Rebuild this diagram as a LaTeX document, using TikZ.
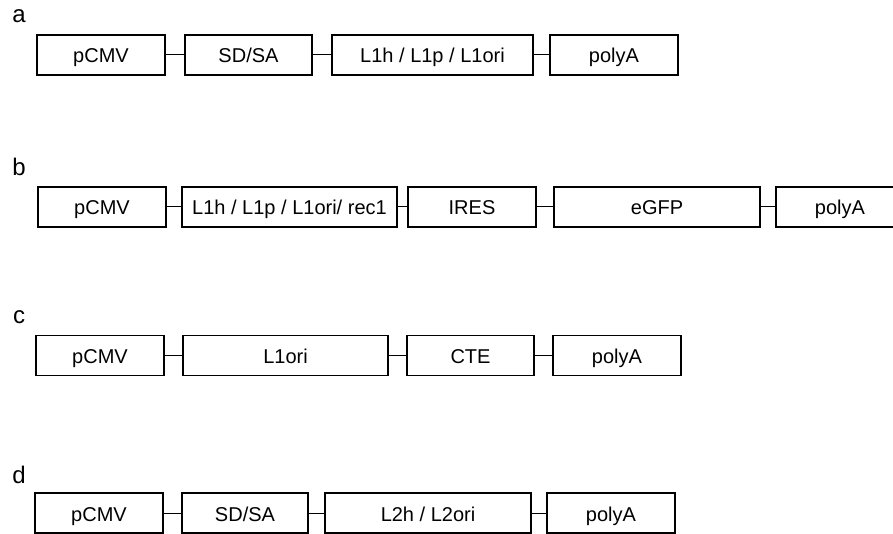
\documentclass[tikz,border=0pt]{standalone}
\usepackage{fontspec}
\setmainfont{Liberation Sans}
\usepackage{tikz}
\usetikzlibrary{positioning}
\tikzset{
  blk/.style={draw,line width=1.1pt,minimum height=40,inner sep=0pt,text height=18,text depth=2,font=\fontsize{20}{24}\selectfont},
  lbl/.style={anchor=base,inner sep=0pt,font=\fontsize{24}{28}\selectfont},
  link/.style={line width=1pt}
}

\begin{document}
\begin{tikzpicture}[x=1pt,y=-1pt]
  \clip (0,0) rectangle (893,534);
  % a
  \node[lbl] (la) at (19,23) {a};
  \node[blk,minimum width=128] (a1) at (101,55) {pCMV};
  \node[blk,minimum width=127] (a2) at (248.5,55) {SD/SA};
  \node[blk,minimum width=201] (a3) at (432.5,55) {L1h / L1p / L1ori};
  \node[blk,minimum width=128] (a4) at (614,55) {polyA};
  \draw[link] (a1) -- (a2);  \draw[link] (a2) -- (a3);  \draw[link] (a3) -- (a4);
  % b
  \node[lbl] (lb) at (19,176) {b};
  \node[blk,minimum width=128] (b1) at (102,207) {pCMV};
  \node[blk,minimum width=215] (b2) at (289.5,207) {L1h / L1p / L1ori/ rec1};
  \node[blk,minimum width=128] (b3) at (472,207) {IRES};
  \node[blk,minimum width=206] (b4) at (657,207) {eGFP};
  \node[blk,minimum width=128] (b5) at (840,207) {polyA};
  \draw[link] (b1) -- (b2);  \draw[link] (b2) -- (b3);  \draw[link] (b3) -- (b4);  \draw[link] (b4) -- (b5);
  % c
  \node[lbl] (lc) at (19,323) {c};
  \node[blk,minimum width=128] (c1) at (100,355.5) {pCMV};
  \node[blk,minimum width=205] (c2) at (285.5,355.5) {L1ori};
  \node[blk,minimum width=127] (c3) at (470.5,355.5) {CTE};
  \node[blk,minimum width=128] (c4) at (617,355.5) {polyA};
  \draw[link] (c1) -- (c2);  \draw[link] (c2) -- (c3);  \draw[link] (c3) -- (c4);
  % d
  \node[lbl] (ld) at (19,483) {d};
  \node[blk,minimum width=128] (d1) at (99,513) {pCMV};
  \node[blk,minimum width=126] (d2) at (245,513) {SD/SA};
  \node[blk,minimum width=206] (d3) at (428,513) {L2h / L2ori};
  \node[blk,minimum width=128] (d4) at (611,513) {polyA};
  \draw[link] (d1) -- (d2);  \draw[link] (d2) -- (d3);  \draw[link] (d3) -- (d4);
\end{tikzpicture}
\end{document}
